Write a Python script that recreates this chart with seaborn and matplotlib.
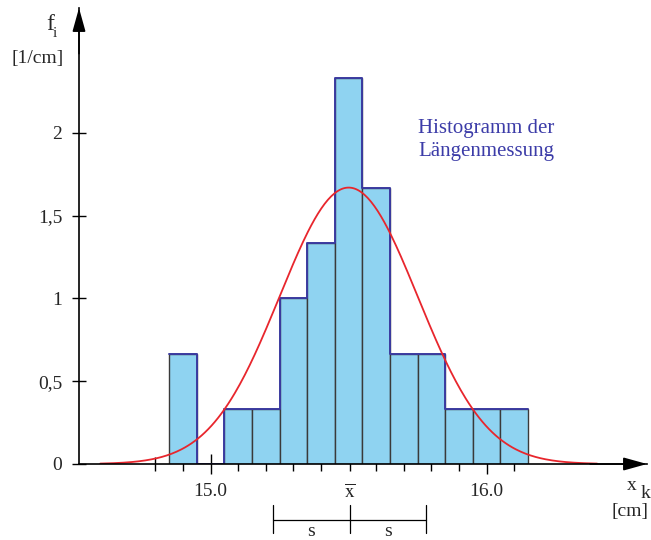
import numpy as np
import pandas as pd
import matplotlib.pyplot as plt
import seaborn as sns

# ==========================================
# Daten: Klassenmitten [cm] und Anzahl der Messwerte je Klasse
# ==========================================
bin_centers = [14.9, 15.1, 15.2, 15.3, 15.4, 15.5, 15.6, 15.7, 15.8, 15.9, 16.0, 16.1]
counts = [2, 1, 1, 3, 4, 7, 5, 2, 2, 1, 1, 1]
bin_width = 0.1

# Gauss-Kurve
curve_mean = 15.5
curve_sigma = 0.25
curve_peak = 1.67
curve_range = [14.6, 16.4]

y_ticks = [0, 0.5, 1, 1.5, 2]
y_ticklabels = ['0', '0,5', '1', '1,5', '2']
x_minor = [14.8, 14.9, 15.1, 15.2, 15.3, 15.4, 15.6, 15.7, 15.8, 15.9, 16.1]

fill_color = '#8fd3f1'
edge_blue = '#3b3ba0'
text_blue = '#3c3ca8'
curve_red = '#e8262d'

sns.set_style('white')
plt.rcParams['font.family'] = ['Liberation Serif', 'DejaVu Serif']
plt.rcParams['mathtext.fontset'] = 'stix'

df = pd.DataFrame({'x': bin_centers, 'n': counts})
x_mean = np.average(df['x'], weights=df['n'])
n_total = df['n'].sum()
s = np.sqrt(np.sum(df['n'] * (df['x'] - x_mean) ** 2) / (n_total - 1))

# Klassengrenzen (als Liste, seaborn vergleicht bins mit "auto")
edges = np.round(np.arange(min(bin_centers) - bin_width / 2,
                           max(bin_centers) + bin_width, bin_width), 3).tolist()

fig = plt.figure(figsize=(6.51, 5.40), dpi=100)
ax = fig.add_axes([79 / 651, 76 / 540, 568 / 651, 456 / 540])

# --- Histogramm ---
sns.histplot(data=df, x='x', weights='n', bins=edges, stat='density',
             color=fill_color, edgecolor='#3a3a3a', linewidth=1, alpha=1, ax=ax)
sns.histplot(data=df, x='x', weights='n', bins=edges, stat='density',
             element='step', fill=False, color=edge_blue, linewidth=1.4, ax=ax)

# --- Gauss-Kurve ---
xs = np.linspace(curve_range[0], curve_range[1], 300)
ys = curve_peak * np.exp(-(xs - curve_mean) ** 2 / (2 * curve_sigma ** 2))
sns.lineplot(x=xs, y=ys, color=curve_red, linewidth=1.3, ax=ax)

ax.set_xlim(14.523, 14.523 + 568 / 276)
ax.set_ylim(0, 2.755)
ax.set_xlabel('')
ax.set_ylabel('')

for side in ['top', 'right']:
    ax.spines[side].set_visible(False)
for side in ['left', 'bottom']:
    ax.spines[side].set_linewidth(1.2)
    ax.spines[side].set_color('black')

# Pfeile an den Achsen
arrow = dict(arrowstyle='-|>,head_length=0.72,head_width=0.2', color='black',
             lw=1.2, mutation_scale=20, shrinkA=0, shrinkB=0)
ax.annotate('', xy=(1, 0), xytext=(0.9, 0), xycoords=ax.get_yaxis_transform(),
            textcoords=ax.get_yaxis_transform(), arrowprops=arrow, annotation_clip=False)
ax.annotate('', xy=(0, 1), xytext=(0, 0.9), xycoords='axes fraction',
            textcoords='axes fraction', arrowprops=arrow, annotation_clip=False)

# --- Achsenteilung ---
ax.set_yticks(y_ticks)
ax.set_yticklabels(y_ticklabels)
ax.set_xticks([15.0, x_mean, 16.0])
ax.set_xticklabels(['15.0', r'$\overline{\mathrm{x}}$', '16.0'])
ax.set_xticks(x_minor, minor=True)
ax.tick_params(axis='both', which='both', direction='inout', color='black', width=1,
               labelsize=14, left=True, bottom=True)
ax.tick_params(axis='y', length=10, pad=7)
ax.tick_params(axis='x', which='major', length=14, pad=7)
ax.tick_params(axis='x', which='minor', length=10)
ax.xaxis.get_major_ticks()[1].tick1line.set_markersize(10)

# --- Beschriftungen ---
ax.text(14.403, 2.622, 'f', fontsize=17, ha='left', va='baseline', clip_on=False)
ax.text(14.428, 2.578, 'i', fontsize=11, ha='left', va='baseline', clip_on=False)
ax.text(14.372, 2.423, '[1/cm]', fontsize=14, ha='center', va='baseline', clip_on=False)
ax.text(16.509, -0.157, 'x', fontsize=14, ha='left', va='baseline', clip_on=False)
ax.text(16.556, -0.205, 'k', fontsize=14, ha='left', va='baseline', clip_on=False)
ax.text(16.585, -0.314, '[cm]', fontsize=14, ha='right', va='baseline', clip_on=False)
ax.text(15.751, 2.0, 'Histogramm der', fontsize=15, color=text_blue,
        ha='left', va='baseline')
ax.text(15.751, 1.861, 'Längenmessung', fontsize=15, color=text_blue,
        ha='left', va='baseline')

# Standardabweichung unter der Achse
ax.plot([x_mean - s, x_mean + s], [-0.338, -0.338], color='black', lw=0.9, clip_on=False)
for xv in [x_mean - s, x_mean, x_mean + s]:
    ax.plot([xv, xv], [-0.25, -0.414], color='black', lw=0.9, clip_on=False)
for xv in [x_mean - s / 2, x_mean + s / 2]:
    ax.text(xv, -0.433, 's', fontsize=14, ha='center', va='baseline', clip_on=False)

fig.savefig('out.png', dpi=100)
